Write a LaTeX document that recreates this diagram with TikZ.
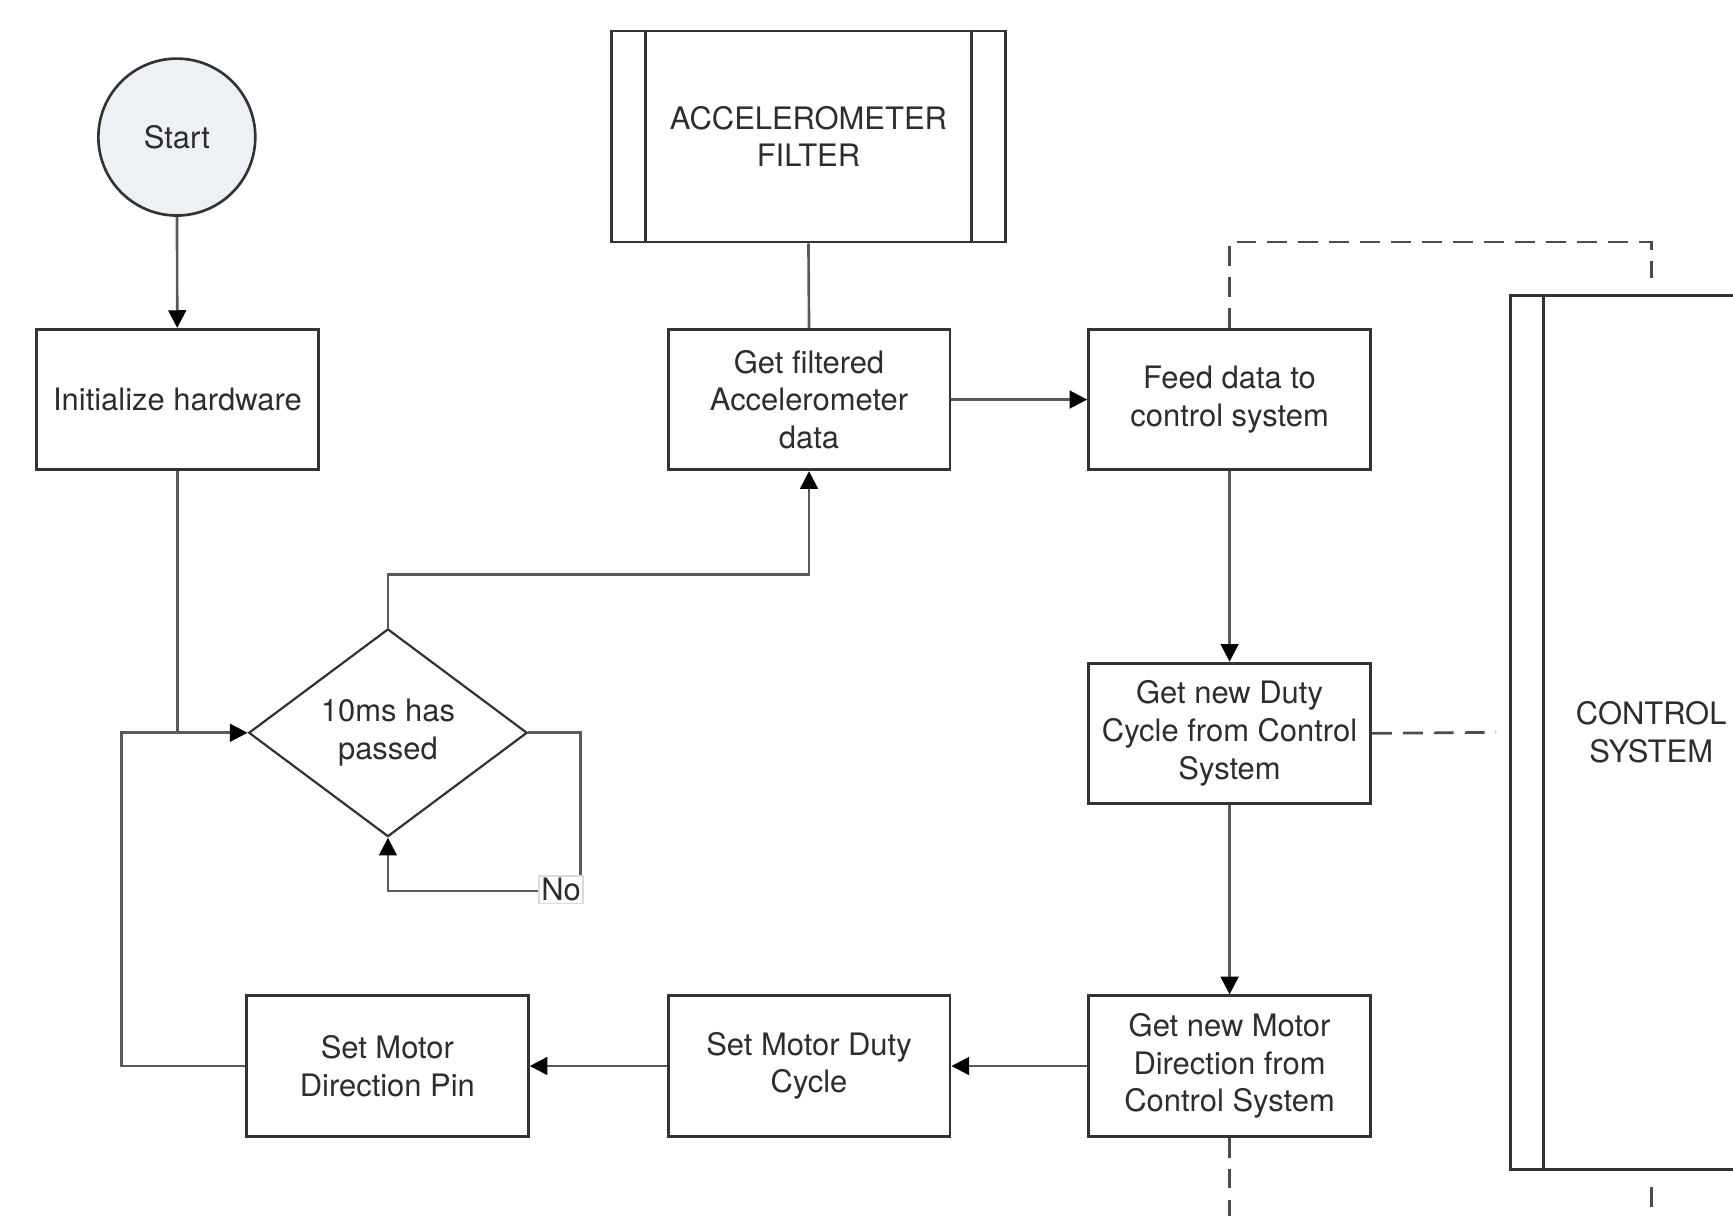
\documentclass[tikz,border=0pt]{standalone}
\usepackage{fontspec}
\setmainfont{TeX Gyre Heros}
\usetikzlibrary{shapes.geometric,arrows.meta}
\definecolor{startfill}{RGB}{237,240,245}
\definecolor{ink}{RGB}{45,45,45}
\begin{document}
\begin{tikzpicture}[x=0.5pt,y=-0.5pt,
  font=\fontsize{14}{17}\selectfont,
  box/.style={draw=black!80, line width=1.3pt, rectangle, minimum width=127.5pt,
    minimum height=63.5pt, align=center, inner sep=2pt, text=ink},
  conn/.style={draw=black!65, line width=1.2pt},
  arr/.style={conn, -{Triangle[length=8pt,width=8pt,color=black]}},
  dashline/.style={draw=black!70, line width=1.2pt, dash pattern=on 9pt off 5pt},
  inner/.style={draw=black!80, line width=1.3pt}]
\useasboundingbox (0,0) rectangle (1568,1100);
\clip (0,0) rectangle (1568,1100);

% nodes
\node[circle, draw=black!80, line width=1.2pt, fill=startfill, minimum size=71pt,
  inner sep=0pt, text=ink] (start) at (160,124) {Start};
\node[box] (init) at (160.5,361.5) {Initialize hardware};
\node[box, minimum width=178.5pt, minimum height=95.5pt] (acc) at (731.5,123.5) {ACCELEROMETER\\FILTER};
\draw[inner] ([xshift=16pt]acc.north west) -- ([xshift=16pt]acc.south west);
\draw[inner] ([xshift=-16pt]acc.north east) -- ([xshift=-16pt]acc.south east);
\node[box] (getf) at (732,361.5) {Get filtered\\Accelerometer\\data};
\node[box] (feed) at (1112.5,361.5) {Feed data to\\control system};
\node[box] (duty) at (1112.5,663.5) {Get new Duty\\Cycle from Control\\System};
\node[box] (mdir) at (1112.5,964.5) {Get new Motor\\Direction from\\Control System};
\node[box] (sduty) at (732,964.5) {Set Motor Duty\\Cycle};
\node[box] (spin) at (350.5,964.5) {Set Motor\\Direction Pin};
\node[diamond, draw=black!80, line width=1pt, minimum width=126pt, minimum height=94pt,
  inner sep=0pt, align=center, text=ink] (dec) at (351,663) {10ms has\\passed};
\node[box, minimum width=127pt, minimum height=395.5pt] (ctrl) at (1494,662.5) {CONTROL\\SYSTEM};
\draw[inner] ([xshift=15.5pt]ctrl.north west) -- ([xshift=15.5pt]ctrl.south west);
\draw[inner] ([xshift=-15.5pt]ctrl.north east) -- ([xshift=-15.5pt]ctrl.south east);

% helper coordinates
\coordinate (lb) at (110,663);
\coordinate (t1) at (351,520);
\coordinate (nr) at (525,806);
\coordinate (d1) at (1112.5,219);
\coordinate (d2) at (1112.5,1150);

% connectors
\draw[arr] (start) -- (init);
\draw[conn] (init.south) -- (init.south |- dec.west);
\draw[arr] (spin.west) -| (lb) -- (dec.west);
\draw[arr] (dec.north) -- (t1) -| (getf.south);
\draw[arr] (dec.east) -| (nr) -| (dec.south);
\node[fill=white, draw=black!15, line width=0.5pt, inner sep=1pt, text=ink, anchor=east] (no) at (528,805) {No};
\draw[conn] (acc.south) -- (getf.north);
\draw[arr] (getf.east) -- (feed.west);
\draw[arr] (feed.south) -- (duty.north);
\draw[arr] (duty.south) -- (mdir.north);
\draw[arr] (mdir.west) -- (sduty.east);
\draw[arr] (sduty.west) -- (spin.east);

% dashed links to control system
\draw[dashline, shorten >=7pt] (feed.north) -- (d1) -| (ctrl.north);
\draw[dashline, shorten >=6pt] (duty.east) -- (ctrl.west);
\draw[dashline, shorten >=7pt] (mdir.south) -- (d2) -| (ctrl.south);
\end{tikzpicture}
\end{document}
